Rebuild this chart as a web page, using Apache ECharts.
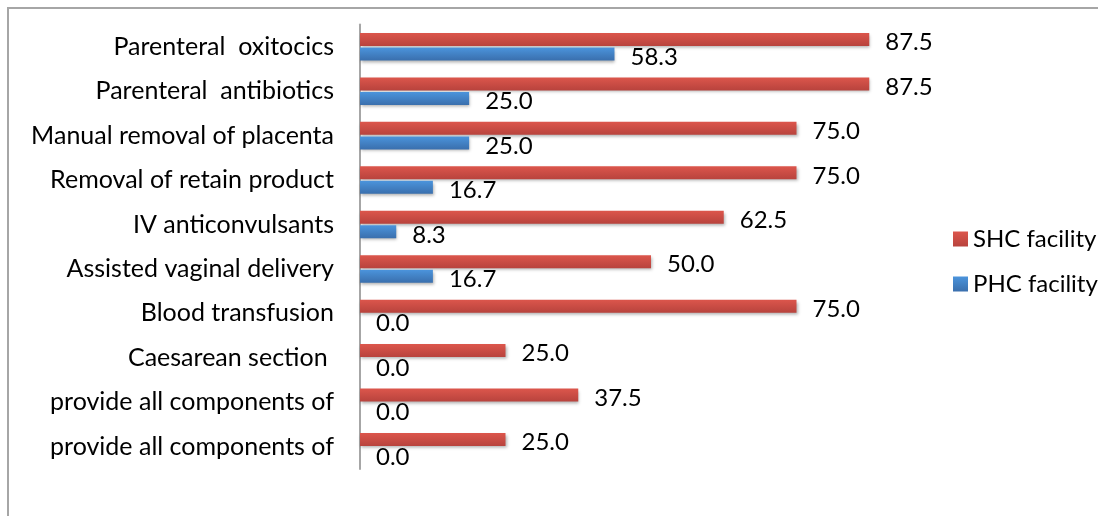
<!DOCTYPE html>
<html>
<head>
<meta charset="utf-8">
<script src="https://cdn.jsdelivr.net/npm/echarts@6/dist/echarts.min.js"></script>
<style>
html,body{margin:0;padding:0;background:#fff;}
#chart{width:1098px;height:516px;}
</style>
</head>
<body>
<div id="chart"></div>
<script>
const categories = [
  "Parenteral  oxitocics",
  "Parenteral  antibiotics",
  "Manual removal of placenta",
  "Removal of retain product",
  "IV anticonvulsants",
  "Assisted vaginal delivery",
  "Blood transfusion",
  "Caesarean section ",
  "provide all components of",
  "provide all components of"
];
const shcValues = [87.5, 87.5, 75.0, 75.0, 62.5, 50.0, 75.0, 25.0, 37.5, 25.0];
const phcValues = [58.3, 25.0, 25.0, 16.7, 8.3, 16.7, 0.0, 0.0, 0.0, 0.0];
const seriesNames = ["SHC facility", "PHC facility"];
// the original plots the PHC series on its own (hidden) secondary value axis
const shcAxisMax = 100;
const phcAxisMax = 133.33;

const FONT = "Lato";
const chart = echarts.init(document.getElementById('chart'), null, {renderer: 'canvas'});

function grad(top, bottom) {
  return new echarts.graphic.LinearGradient(0, 0, 0, 1, [
    {offset: 0, color: top}, {offset: 1, color: bottom}
  ]);
}
const labelCfg = {
  show: true,
  position: 'right',
  distance: 16,
  offset: [0, 3],
  fontFamily: FONT,
  fontSize: 24,
  color: '#000',
  formatter: p => Number(p.value).toFixed(1)
};
const shadow = {shadowBlur: 3, shadowOffsetY: 2, shadowOffsetX: 1, shadowColor: 'rgba(0,0,0,0.3)'};

chart.setOption({
  animation: false,
  backgroundColor: '#fff',
  graphic: [{
    type: 'rect',
    shape: {x: 8, y: 8, width: 1200, height: 600},
    style: {fill: 'none', stroke: '#a6a6a6', lineWidth: 2},
    silent: true, z: -1
  }],
  grid: {left: 360, right: 156, top: 24.5, bottom: 47, containLabel: false},
  legend: {
    orient: 'vertical',
    left: 948,
    top: 222,
    data: seriesNames,
    icon: 'rect',
    itemWidth: 15,
    itemHeight: 15,
    itemGap: 21,
    textStyle: {fontFamily: FONT, fontSize: 24, color: '#000'}
  },
  xAxis: [
    {type: 'value', min: 0, max: shcAxisMax, show: false},
    {type: 'value', min: 0, max: phcAxisMax, show: false}
  ],
  yAxis: {
    type: 'category',
    inverse: true,
    data: categories,
    axisLine: {show: true, lineStyle: {color: '#a6a6a6', width: 2}},
    axisTick: {show: false},
    axisLabel: {fontFamily: FONT, fontSize: 25, color: '#000', margin: 26}
  },
  series: [
    {
      name: seriesNames[0],
      type: 'bar',
      xAxisIndex: 0,
      data: shcValues,
      barWidth: 13,
      barGap: '12%',
      itemStyle: Object.assign({color: grad('#dc564c', '#b8433d')}, shadow),
      label: labelCfg
    },
    {
      name: seriesNames[1],
      type: 'bar',
      xAxisIndex: 1,
      data: phcValues,
      barWidth: 13,
      barGap: '12%',
      itemStyle: Object.assign({color: grad('#4b94dc', '#3a6fad')}, shadow),
      label: labelCfg
    }
  ]
});
</script>
</body>
</html>
